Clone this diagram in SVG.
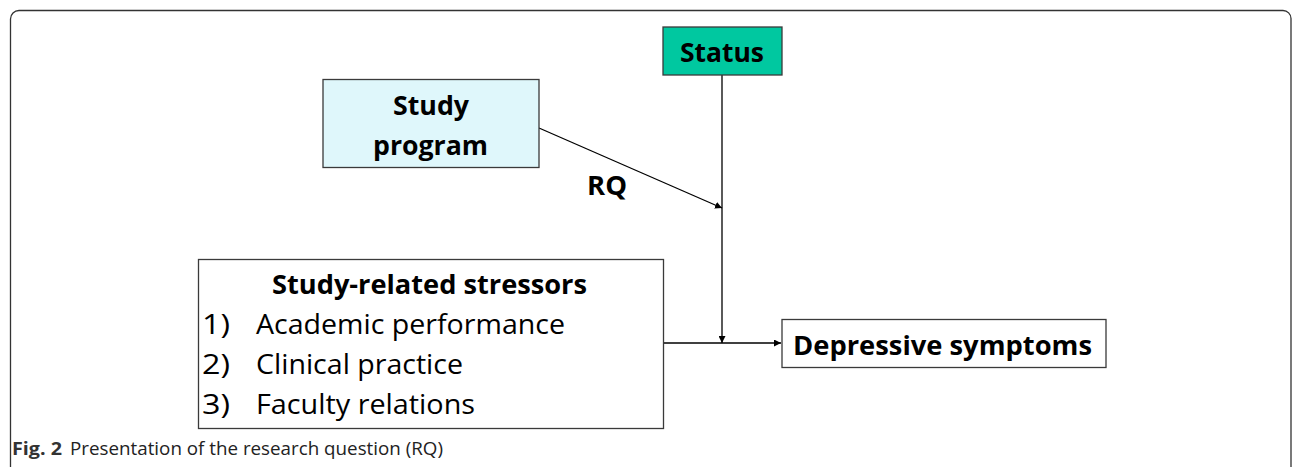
<svg xmlns="http://www.w3.org/2000/svg" width="1292" height="467" viewBox="0 0 1292 467">
<style>
.box{stroke:#3a3a3a;stroke-width:1.3}
.b{font-family:"Open Sans","Liberation Sans",sans-serif;font-weight:bold;font-size:27px;fill:#000}
.r{font-family:"Open Sans","Liberation Sans",sans-serif;font-size:28px;fill:#000}
.ln{stroke:#000;stroke-width:1.3;fill:none}
.cap{font-family:"Open Sans","Liberation Sans",sans-serif;font-size:18px;fill:#222}
</style>
<defs>
<marker id="ah" viewBox="0 0 10 10" refX="10" refY="5" markerWidth="7" markerHeight="7" markerUnits="userSpaceOnUse" orient="auto">
<path d="M0,0 L10,5 L0,10 z" fill="#000"/>
</marker>
</defs>
<rect width="1292" height="467" fill="#fff"/>
<path d="M10.5,467 V19 A8.5,8.5 0 0 1 19,10.5 H1283 A8,8 0 0 1 1291,18.5 V467" fill="none" stroke="#333" stroke-width="1.3"/>
<g id="connectors">
<line class="ln" x1="722" y1="75" x2="722" y2="343" marker-end="url(#ah)"/>
<line class="ln" x1="539" y1="128" x2="722" y2="208" marker-end="url(#ah)"/>
<line class="ln" x1="663" y1="343" x2="781" y2="343" marker-end="url(#ah)"/>
<text class="b" x="587" y="195" textLength="40" lengthAdjust="spacingAndGlyphs">RQ</text>
</g>
<g id="status">
<rect class="box" x="663" y="27" width="119" height="48" fill="#00c8a0"/>
<text class="b" x="680" y="62" textLength="84" lengthAdjust="spacingAndGlyphs">Status</text>
</g>
<g id="study-program">
<rect class="box" x="323" y="79.5" width="216" height="88" fill="#dff7fb"/>
<text class="b" x="393" y="115" textLength="76" lengthAdjust="spacingAndGlyphs">Study</text>
<text class="b" x="373" y="155" textLength="115" lengthAdjust="spacingAndGlyphs">program</text>
</g>
<g id="stressors">
<rect class="box" x="198.5" y="259.5" width="465" height="169" fill="#fff"/>
<text class="b" x="272" y="294" textLength="315" lengthAdjust="spacingAndGlyphs">Study-related stressors</text>
<text class="r" x="202" y="334" textLength="28" lengthAdjust="spacingAndGlyphs">1)</text>
<text class="r" x="256" y="334" textLength="309" lengthAdjust="spacingAndGlyphs">Academic performance</text>
<text class="r" x="202" y="374" textLength="28" lengthAdjust="spacingAndGlyphs">2)</text>
<text class="r" x="256" y="374" textLength="207" lengthAdjust="spacingAndGlyphs">Clinical practice</text>
<text class="r" x="202" y="414" textLength="28" lengthAdjust="spacingAndGlyphs">3)</text>
<text class="r" x="256" y="414" textLength="219" lengthAdjust="spacingAndGlyphs">Faculty relations</text>
</g>
<g id="depressive">
<rect class="box" x="782" y="319.5" width="324" height="48" fill="#fff"/>
<text class="b" x="793" y="355" textLength="299" lengthAdjust="spacingAndGlyphs">Depressive symptoms</text>
</g>
<g id="caption">
<text class="cap" x="12" y="455"><tspan font-weight="bold" fill="#333" textLength="50" lengthAdjust="spacingAndGlyphs">Fig. 2</tspan><tspan x="70" textLength="373" lengthAdjust="spacingAndGlyphs">Presentation of the research question (RQ)</tspan></text>
</g>
</svg>
